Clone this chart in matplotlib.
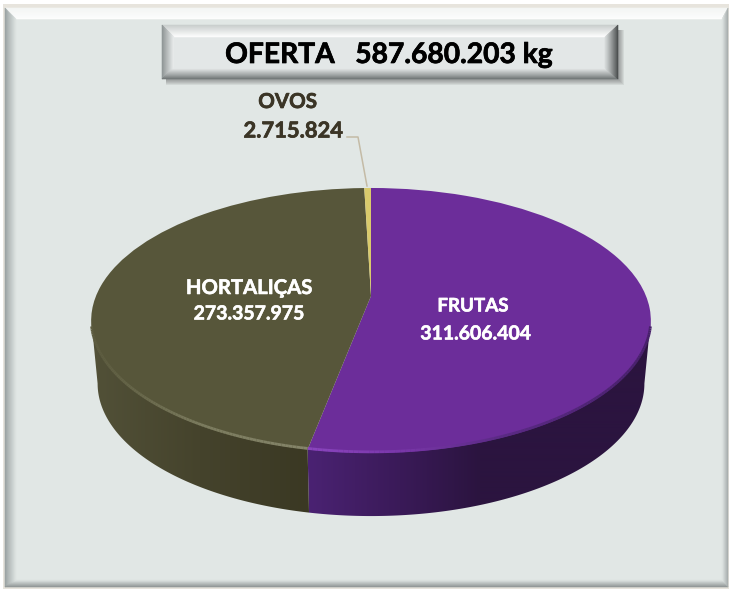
import numpy as np
import matplotlib
matplotlib.use('Agg')
import matplotlib.pyplot as plt
import matplotlib.patheffects as pe
from matplotlib.collections import LineCollection
from matplotlib.colors import to_rgb
from matplotlib.patches import Polygon
from matplotlib.transforms import Transform

categories = ['FRUTAS', 'HORTALIÇAS', 'OVOS']
values = [311606404, 273357975, 2715824]
value_labels = ['311.606.404', '273.357.975', '2.715.824']
title = 'OFERTA   587.680.203 kg'

colors = ['#6c2d9a', '#57563a', '#d9ca6c']

W, H = 729, 589
CX, CY, RX, RY, K = 371, 296, 275, 128, 0.185
DEPTH = 63
plt.rcParams['font.family'] = ['Lato', 'DejaVu Sans']


def mix(c1, c2, t):
    c1, c2 = np.array(to_rgb(c1)), np.array(to_rgb(c2))
    return tuple(c1 + (c2 - c1) * min(max(t, 0), 1))


class Tilt(Transform):
    # flat pie circle -> pixel coordinates, with some perspective
    input_dims = 2
    output_dims = 2

    def transform_non_affine(self, xy):
        xy = np.asarray(xy, dtype=float)
        d = 1 + K * xy[:, 1]
        return np.column_stack([CX + RX * xy[:, 0] / d, CY - RY * xy[:, 1] / d])


tilt = Tilt()


def bevel(ax, x0, y0, x1, y1, widths, cols, z=1, n=12):
    # widths and cols are for top, left, bottom, right; cols are (outer, inner)
    wt, wl, wb, wr = widths
    for i in range(n):
        a, b = i / n, (i + 1) / n
        q = [(x0 + wl * a, y0 + wt * a), (x1 - wr * a, y0 + wt * a), (x1 - wr * b, y0 + wt * b), (x0 + wl * b, y0 + wt * b)]
        ax.fill(*zip(*q), color=mix(*cols[0], a), lw=0.4, zorder=z)
        q = [(x0 + wl * a, y0 + wt * a), (x0 + wl * b, y0 + wt * b), (x0 + wl * b, y1 - wb * b), (x0 + wl * a, y1 - wb * a)]
        ax.fill(*zip(*q), color=mix(*cols[1], a), lw=0.4, zorder=z)
        q = [(x0 + wl * a, y1 - wb * a), (x1 - wr * a, y1 - wb * a), (x1 - wr * b, y1 - wb * b), (x0 + wl * b, y1 - wb * b)]
        ax.fill(*zip(*q), color=mix(*cols[2], a), lw=0.4, zorder=z)
        q = [(x1 - wr * a, y0 + wt * a), (x1 - wr * b, y0 + wt * b), (x1 - wr * b, y1 - wb * b), (x1 - wr * a, y1 - wb * a)]
        ax.fill(*zip(*q), color=mix(*cols[3], a), lw=0.4, zorder=z)


def side_pts(deg):
    t = np.radians(deg)
    top = tilt.transform_non_affine(np.column_stack([np.sin(t), np.cos(t)]))
    bot = top.copy()
    bot[:, 0] = CX + (top[:, 0] - CX) * 0.977
    bot[:, 1] = top[:, 1] + DEPTH
    return top, bot


def stop_colors(xv, stops):
    xs = np.array([s[1] for s in stops])
    rgb = np.array([to_rgb(s[0]) for s in stops])
    order = np.argsort(xs)
    return np.column_stack([np.interp(xv, xs[order], rgb[order, j]) for j in range(3)])


fig = plt.figure(figsize=(W / 100, H / 100), dpi=100)
ax = fig.add_axes([0, 0, 1, 1])

# panel
ax.fill([3, 729, 729, 3], [4, 4, 589, 589], color='#e7e4dd', lw=0, zorder=0)
ax.fill([5, 728, 728, 5], [8, 8, 587, 587], color='#e1e7e5', lw=0, zorder=0.5)
bevel(ax, 5, 8, 728, 587, (11, 11, 7, 6),
      [('#f4f6f5', '#ffffff'), ('#9aa2a2', '#e1e7e5'), ('#8d9393', '#e1e7e5'), ('#a5abab', '#e1e7e5')])

# title box with soft shadow
for i in range(7):
    ax.fill([166, 618 + i, 618 + i, 166], [30, 30, 79 + i, 79 + i], color='#444444', alpha=0.09, lw=0, zorder=1)
ax.fill([162, 618, 618, 162], [25, 25, 79, 79], color='#e3e7e7', lw=0, zorder=1.5)
bevel(ax, 162, 25, 618, 79, (12, 12, 11, 13),
      [('#c9cecd', '#ffffff'), ('#8f9696', '#eef1f1'), ('#6f7575', '#eef1f1'), ('#4c5050', '#dfe3e3')], z=1.6)
heavy = [pe.withStroke(linewidth=0.5, foreground='black')]
ax.text(389.5, 55, title, ha='center', va='center', fontsize=20.3, fontweight='bold', color='black', zorder=5, path_effects=heavy)

# pie side, split where the slices split; only the front half shows
shares = np.cumsum(values) / np.sum(values) * 360
edge = np.degrees(np.arccos(-K))
side_ranges = [(edge, shares[0]), (shares[0], 360 - edge)]
side_cols = [[('#4a2272', 310), ('#3a1a58', 400), ('#2b143f', 480), ('#2b143f', 660)],
             [('#3a3823', 310), ('#45432c', 200), ('#525138', 90)]]
grad_x = np.arange(80, 670)
for (a, b), stops in zip(side_ranges, side_cols):
    top, bot = side_pts(np.linspace(a, b, 200))
    outline = Polygon(np.vstack([top - [0, 2], bot[::-1]]), closed=True, transform=ax.transData)
    im = ax.imshow(stop_colors(grad_x, stops)[np.newaxis, :, :], extent=(80, 670, 530, 180),
                   aspect='auto', zorder=2, interpolation='bilinear')
    im.set_clip_path(outline)

# pie top
ax.pie(values, colors=colors, startangle=90, counterclock=False,
       wedgeprops={'transform': tilt + ax.transData, 'linewidth': 0, 'zorder': 3})

# light rim along the front edge
rim_deg = [(edge + 3, shares[0]), (shares[0], 360 - edge - 3)]
rim_cols = [[('#8a45bd', 310), ('#7a37aa', 400), ('#5a2a84', 500), ('#47206a', 650)],
            [('#85856a', 310), ('#7b7b5e', 200), ('#5d5c40', 100)]]
for (a, b), stops in zip(rim_deg, rim_cols):
    top, _ = side_pts(np.linspace(a, b, 100))
    pts = top - [0, 1.2]
    segs = np.stack([pts[:-1], pts[1:]], axis=1)
    seg_cols = stop_colors(segs[:, :, 0].mean(axis=1), stops)
    ax.add_collection(LineCollection(segs, colors=seg_cols, linewidths=2, zorder=4))

# labels
ax.plot([347, 358, 367], [137, 137, 186], color='#c4bba6', lw=1.1, zorder=4)
dark = [pe.withStroke(linewidth=0.5, foreground='#3b3526')]
light = [pe.withStroke(linewidth=0.4, foreground='white')]
ax.text(287.5, 102, categories[2], ha='center', va='center', fontsize=14.8, fontweight='bold', color='#3b3526', zorder=5, path_effects=dark)
ax.text(293.5, 131, value_labels[2], ha='center', va='center', fontsize=15.8, fontweight='bold', color='#3b3526', zorder=5, path_effects=dark)
ax.text(249, 288, categories[1], ha='center', va='center', fontsize=14.6, fontweight='bold', color='white', zorder=5, path_effects=light)
ax.text(249, 314, value_labels[1], ha='center', va='center', fontsize=14, fontweight='bold', color='white', zorder=5, path_effects=light)
ax.text(473, 306, categories[0], ha='center', va='center', fontsize=13.5, fontweight='bold', color='white', zorder=5, path_effects=light)
ax.text(476, 334, value_labels[0], ha='center', va='center', fontsize=14, fontweight='bold', color='white', zorder=5, path_effects=light)

ax.set_aspect('auto')
ax.set_xlim(0, W)
ax.set_ylim(H, 0)
ax.axis('off')
fig.savefig('out.png', dpi=100, facecolor='white')
